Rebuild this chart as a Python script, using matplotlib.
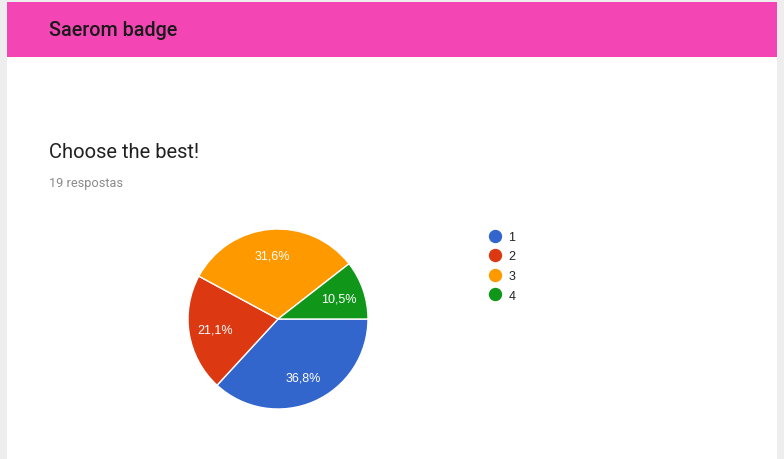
import matplotlib.pyplot as plt
from matplotlib.lines import Line2D
from matplotlib.patches import Rectangle

# Form results: "Choose the best!"
options = ['1', '2', '3', '4']
answers = [7, 4, 6, 2]
colors = ['#3366cc', '#dc3912', '#ff9900', '#109618']

W, H = 784, 460
fig = plt.figure(figsize=(W / 100, H / 100), dpi=100, facecolor='#eeeeee')

# card + coloured header (kept behind the axes)
fig.patches.append(Rectangle((7 / W, 0), 770 / W, 1 - 3 / H, zorder=-2,
                             transform=fig.transFigure, fc='white', ec='none'))
fig.patches.append(Rectangle((7 / W, 1 - 58 / H), 770 / W, 55 / H, zorder=-1,
                             transform=fig.transFigure, fc='#f346b4', ec='none'))

fig.text(49 / W, 1 - 31 / H, 'Saerom badge', family='Roboto', weight='medium',
         fontsize=14.2, color='#1a1a1a', va='center')
fig.text(49 / W, 1 - 153 / H, 'Choose the best!', family='Roboto',
         fontsize=14.5, color='#212121', va='center')
fig.text(49 / W, 1 - 183 / H, '19 respostas', family='Roboto',
         fontsize=9.2, color='#8a8a8a', va='center')

# pie, centred at (278, 320) px with radius 90 px
cx, cy, r = 278, 320, 90
ax = fig.add_axes([(cx - r) / W, (H - cy - r) / H, 2 * r / W, 2 * r / H])
wedges, _, pcts = ax.pie(
    answers, colors=colors, startangle=0, counterclock=False,
    autopct=lambda p: f'{p:.1f}%'.replace('.', ','), pctdistance=0.71,
    wedgeprops=dict(edgecolor='white', linewidth=1),
    textprops=dict(color='white', fontsize=9, family='Liberation Sans'))
ax.set_xlim(-1, 1)
ax.set_ylim(-1, 1)
ax.axis('off')

handles = [Line2D([], [], marker='o', linestyle='none', markersize=8.6,
                  markerfacecolor=c, markeredgecolor=c) for c in colors]
fig.legend(handles, options, loc='upper left',
           bbox_to_anchor=(489 / W, 1 - 232 / H), frameon=False,
           prop=dict(family='Liberation Sans', size=9), labelcolor='#222222',
           handlelength=1.0, handletextpad=0.55, labelspacing=0.6,
           borderpad=0, borderaxespad=0)

fig.savefig('out.png', dpi=100, facecolor=fig.get_facecolor())
